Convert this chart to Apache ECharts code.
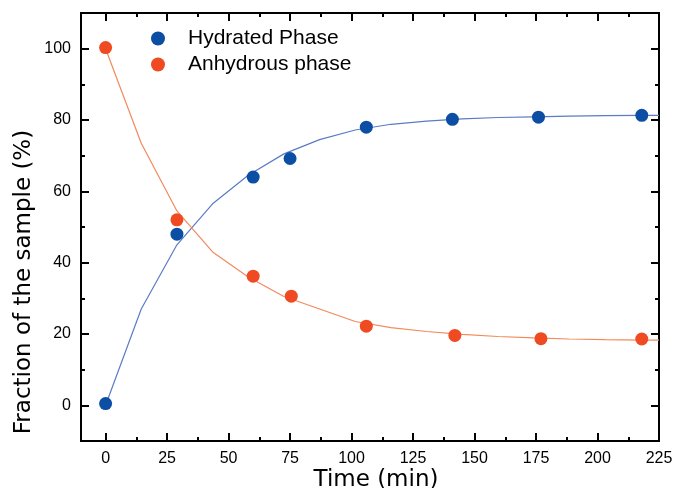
<!DOCTYPE html>
<html>
<head>
<meta charset="utf-8">
<script src="https://cdn.jsdelivr.net/npm/echarts@6/dist/echarts.min.js"></script>
<style>
  html, body { margin: 0; padding: 0; background: #fff; }
  #chart { width: 675px; height: 488px; }
</style>
</head>
<body>
<div id="chart"></div>
<script>
// measured points
var hydratedPts = [[0, 0.5], [29, 48], [60, 64], [75, 69.2], [106, 78], [141, 80.2], [176, 80.8], [218, 81.3]];
var anhydrousPts = [[0, 100.3], [29, 52], [60, 36.2], [75.5, 30.6], [106, 22.2], [142, 19.6], [177, 18.7], [218, 18.6]];

// fitted curves
var fitTimes = [0, 14.5, 29, 43.5, 58, 72.5, 87, 101.5, 116, 130.5, 145, 159.5, 174, 188.5, 203, 217.5, 225];
var hydratedFit = [0, 27, 45, 56.5, 64.5, 70.5, 74.5, 77.2, 78.8, 79.7, 80.3, 80.7, 80.9, 81.1, 81.2, 81.3, 81.3];
var anhydrousFit = [100, 73.5, 54.5, 43, 36, 30.5, 27, 23.5, 21.8, 20.7, 19.9, 19.3, 18.9, 18.6, 18.4, 18.3, 18.3];

var xMajor = [0, 25, 50, 75, 100, 125, 150, 175, 200, 225];
var xMinor = [12.5, 37.5, 62.5, 87.5, 112.5, 137.5, 162.5, 187.5, 212.5];
var yMajor = [0, 20, 40, 60, 80, 100];
var yMinor = [10, 30, 50, 70, 90];

function pairs(xs, ys) {
    return xs.map(function (x, i) { return [x, ys[i]]; });
}

var font = 'Liberation Sans';
var lineStyle = { color: '#000', width: 2 };

function xAxisDef(pos, ticks, len, labels) {
    return {
        type: 'value', position: pos, min: -10, max: 225,
        axisLine: { show: true, onZero: false, lineStyle: lineStyle },
        axisTick: { show: true, inside: true, length: len, customValues: ticks, lineStyle: lineStyle },
        axisLabel: labels ? { show: true, customValues: ticks, fontFamily: font, fontSize: 16, color: '#000', margin: 10 } : { show: false },
        splitLine: { show: false }
    };
}
function yAxisDef(pos, ticks, len, labels) {
    return {
        type: 'value', position: pos, min: -10, max: 110,
        axisLine: { show: true, onZero: false, lineStyle: lineStyle },
        axisTick: { show: true, inside: true, length: len, customValues: ticks, lineStyle: lineStyle },
        axisLabel: labels ? { show: true, customValues: ticks, fontFamily: font, fontSize: 16, color: '#000', margin: 10 } : { show: false },
        splitLine: { show: false }
    };
}

var xs = [xAxisDef('bottom', xMajor, 8, true), xAxisDef('bottom', xMinor, 4, false),
          xAxisDef('top', xMajor, 8, false), xAxisDef('top', xMinor, 4, false)];
xs[0].name = 'Time (min)';
xs[0].nameLocation = 'middle';
xs[0].nameGap = 28;
xs[0].nameMoveOverlap = false;
xs[0].nameTextStyle = { fontFamily: 'DejaVu Sans', fontSize: 23, color: '#000', padding: [0, 0, 0, 12] };

var ys = [yAxisDef('left', yMajor, 8, true), yAxisDef('left', yMinor, 4, false),
          yAxisDef('right', yMajor, 8, false), yAxisDef('right', yMinor, 4, false)];
ys[0].name = 'Fraction of the sample (%)';
ys[0].nameLocation = 'middle';
ys[0].nameGap = 45;
ys[0].nameMoveOverlap = false;
ys[0].nameTextStyle = { fontFamily: 'DejaVu Sans', fontSize: 23, color: '#000', padding: [0, 110, 0, 0] };

var myChart = echarts.init(document.getElementById('chart'));
var option = {
    animation: false,
    backgroundColor: '#fff',
    grid: { left: 81, right: 16, top: 13, bottom: 47, outerBoundsMode: 'none', containLabel: false },
    legend: {
        data: ['Hydrated Phase', 'Anhydrous phase'],
        orient: 'vertical',
        left: 146, top: 23,
        itemWidth: 14, itemHeight: 14, itemGap: 5,
        icon: 'circle',
        textStyle: { fontFamily: font, fontSize: 21, color: '#000', padding: [0, 0, 0, 18] }
    },
    xAxis: xs,
    yAxis: ys,
    series: [
        {
            name: 'Hydrated fit', type: 'line', showSymbol: false, silent: true,
            data: pairs(fitTimes, hydratedFit),
            lineStyle: { color: '#5a7cc4', width: 1.2 }, z: 2
        },
        {
            name: 'Anhydrous fit', type: 'line', showSymbol: false, silent: true,
            data: pairs(fitTimes, anhydrousFit),
            lineStyle: { color: '#f28a5c', width: 1.2 }, z: 2
        },
        {
            name: 'Hydrated Phase', type: 'scatter', symbolSize: 13,
            itemStyle: { color: '#0c4ea3', opacity: 1 }, data: hydratedPts, z: 5
        },
        {
            name: 'Anhydrous phase', type: 'scatter', symbolSize: 13,
            itemStyle: { color: '#ef4a22', opacity: 1 }, data: anhydrousPts, z: 5
        }
    ]
};

myChart.setOption(option);
</script>
</body>
</html>
